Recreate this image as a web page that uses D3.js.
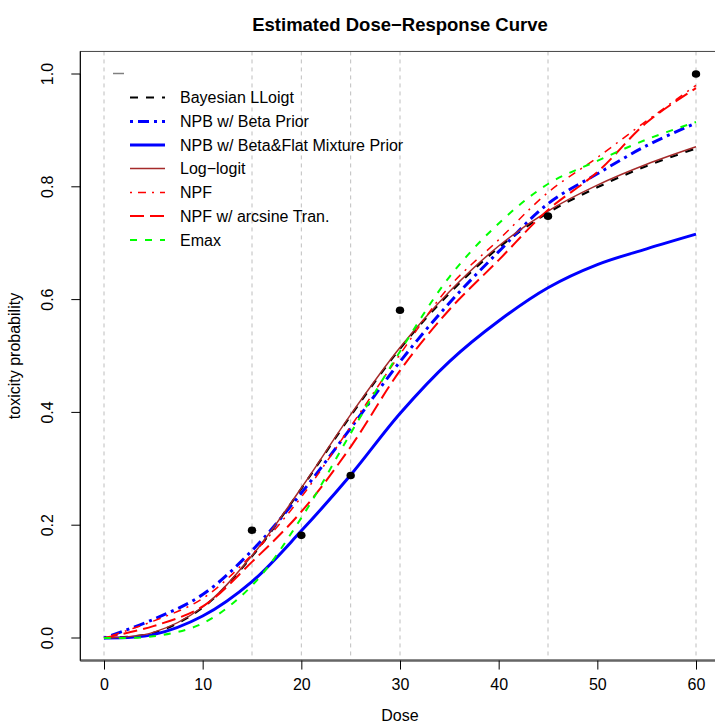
<!DOCTYPE html>
<html>
<head>
<meta charset="utf-8">
<script src="https://cdn.jsdelivr.net/npm/d3@7"></script>
<style>
  body { margin:0; background:#fff; }
  text { font-family: "Liberation Sans", Arial, Helvetica, sans-serif; }
</style>
</head>
<body>
<div id="chart"></div>
<script>
// dose grid used for every fitted curve
const dose = [0,5,10,15,20,25,30,35,40,45,50,55,60];

// fitted curves
const bayesLLogit = [0,0.009,0.054,0.145,0.265,0.394,0.513,0.611,0.692,0.754,0.799,0.837,0.868];
const npbBeta     = [0,0.033,0.077,0.155,0.257,0.372,0.490,0.594,0.685,0.770,0.823,0.873,0.913];
const npbMixture  = [0,0.006,0.039,0.100,0.190,0.289,0.398,0.490,0.562,0.621,0.662,0.690,0.716];
const logLogit    = [0,0.010,0.055,0.146,0.266,0.396,0.515,0.614,0.695,0.757,0.803,0.840,0.871];
const npf         = [0,0.030,0.070,0.148,0.250,0.375,0.503,0.623,0.706,0.790,0.852,0.917,0.980];
const npfArcsine  = [0,0.021,0.056,0.135,0.224,0.339,0.474,0.582,0.670,0.759,0.826,0.914,0.975];
const emax        = [0,0.003,0.026,0.093,0.213,0.363,0.508,0.640,0.735,0.805,0.846,0.884,0.915];

// observed toxicity rates
const obsDose = [15,20,25,30,45,60];
const obsRate = [0.191,0.182,0.288,0.581,0.748,1.0];

const gridDose = [0,15,20,25,30,45,60];
const xticks = [0,10,20,30,40,50,60];
const yticks = [0,0.2,0.4,0.6,0.8,1.0];

const seriesNames = ["Bayesian LLoigt","NPB w/ Beta Prior","NPB w/ Beta&Flat Mixture Prior",
                     "Log\u2212logit","NPF","NPF w/ arcsine Tran.","Emax"];
const seriesData = [bayesLLogit,npbBeta,npbMixture,logLogit,npf,npfArcsine,emax];
const seriesColor = ["#000000","#0000ff","#0000ff","#a52a2a","#ff0000","#ff0000","#00ff00"];
const seriesWidth = [2.2,3,3,1.5,1.5,2,2];
const seriesDash = ["8,8","3,5,11,5",null,null,"2,6,8,6","14,6","7,8"];

function make_chart(){
  let w=715;
  let h=723;
  let fs=16;

  const x_scale = d3.scaleLinear()
        .domain([0,60])
        .range([104,696]);
  const y_scale = d3.scaleLinear()
        .domain([0,1])
        .range([638,74]);

  // R style plot region: 4% padding on each side
  let left = x_scale(-2.4), right = x_scale(62.4);
  let top = y_scale(1.04), bottom = y_scale(-0.04);

  const svg = d3.select("#chart")
        .append("svg")
        .attr("width",w)
        .attr("height",h)
        ;

  svg.append("text")
    .attr("x",(left+right)/2)
    .attr("y",31)
    .attr("text-anchor","middle")
    .attr("font-weight","bold")
    .attr("font-size",18.5)
    .text("Estimated Dose\u2212Response Curve")
  ;

  // vertical reference lines
  svg.selectAll(".vgrid")
    .data(gridDose)
    .enter()
    .append("line")
    .attr("class","vgrid")
    .attr("x1",d=>x_scale(d))
    .attr("x2",d=>x_scale(d))
    .attr("y1",top)
    .attr("y2",bottom)
    .attr("stroke","#bebebe")
    .attr("stroke-width",1)
    .attr("stroke-dasharray","4,4")
  ;

  const line = d3.line()
        .x((d,i)=>x_scale(dose[i]))
        .y(d=>y_scale(d))
        .curve(d3.curveCatmullRom.alpha(0.5));

  seriesData.forEach((s,k)=>{
    svg.append("path")
      .datum(s)
      .attr("d",line)
      .attr("fill","none")
      .attr("stroke",seriesColor[k])
      .attr("stroke-width",seriesWidth[k])
      .attr("stroke-dasharray",seriesDash[k])
    ;
  });

  svg.selectAll(".obs")
    .data(obsRate)
    .enter()
    .append("ellipse")
    .attr("class","obs")
    .attr("cx",(d,i)=>x_scale(obsDose[i]))
    .attr("cy",d=>y_scale(d))
    .attr("rx",4.2)
    .attr("ry",3.8)
    .attr("fill","#000")
  ;

  // box
  svg.append("rect")
    .attr("x",left)
    .attr("y",top)
    .attr("width",right-left)
    .attr("height",bottom-top)
    .attr("fill","none")
    .attr("stroke","#444")
    .attr("stroke-width",1)
  ;
  svg.append("line")
    .attr("x1",left).attr("x2",right)
    .attr("y1",bottom).attr("y2",bottom)
    .attr("stroke","#666")
    .attr("stroke-width",2.5)
  ;
  svg.append("line")
    .attr("x1",left).attr("x2",left)
    .attr("y1",top).attr("y2",bottom)
    .attr("stroke","#000")
    .attr("stroke-width",1)
  ;

  // axes
  const xAxis = svg.append("g")
    .attr("transform",`translate(0, ${bottom})`)
    .call(d3.axisBottom(x_scale).tickValues(xticks).tickSize(9).tickPadding(9).tickFormat(d3.format("d")))
    ;
  xAxis.select(".domain").remove();
  xAxis.selectAll("text").attr("font-size",fs).attr("fill","#000").attr("font-family","Liberation Sans, Arial, sans-serif");
  xAxis.selectAll("line").attr("stroke","#000");

  const yAxis = svg.append("g")
    .attr("transform",`translate(${left}, 0)`)
    .call(d3.axisLeft(y_scale).tickValues(yticks).tickSize(9).tickFormat(d3.format(".1f")))
    ;
  yAxis.select(".domain").attr("d",`M0,${y_scale(0)}V${y_scale(1)}`).attr("stroke","#000");
  yAxis.selectAll("line").attr("stroke","#000");
  yAxis.selectAll(".tick").attr("transform",null);
  yAxis.selectAll(".tick line").attr("y1",d=>y_scale(d)).attr("y2",d=>y_scale(d)).attr("x2",-9);
  yAxis.selectAll("text")
    .attr("font-size",fs)
    .attr("fill","#000")
    .attr("font-family","Liberation Sans, Arial, sans-serif")
    .attr("x",0).attr("y",0).attr("dy",null)
    .attr("text-anchor","middle")
    .attr("transform",d=>`translate(${53-left}, ${y_scale(d)}) rotate(-90)`)
  ;

  svg.append("text")
    .attr("x",(left+right)/2)
    .attr("y",721)
    .attr("text-anchor","middle")
    .attr("font-size",fs)
    .text("Dose")
  ;
  svg.append("text")
    .attr("transform",`translate(20, ${(top+bottom)/2}) rotate(-90)`)
    .attr("text-anchor","middle")
    .attr("font-size",fs)
    .text("toxicity probability")
  ;

  // legend
  svg.append("line")
    .attr("x1",113).attr("x2",124)
    .attr("y1",73.5).attr("y2",73.5)
    .attr("stroke","#808080")
    .attr("stroke-width",1.5)
  ;
  let rowY = [97.5,121.5,145,168.5,192.5,216,240];
  seriesNames.forEach((name,k)=>{
    svg.append("line")
      .attr("x1",130).attr("x2",165)
      .attr("y1",rowY[k]).attr("y2",rowY[k])
      .attr("stroke",seriesColor[k])
      .attr("stroke-width",seriesWidth[k])
      .attr("stroke-dasharray",seriesDash[k])
    ;
    svg.append("text")
      .attr("x",180)
      .attr("y",rowY[k]+5.5)
      .attr("font-size",fs)
      .text(name)
    ;
  });
}
make_chart();
</script>
</body>
</html>
